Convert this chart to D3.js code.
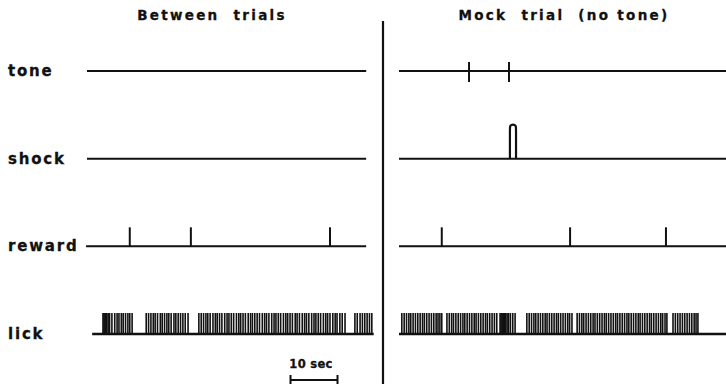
<!DOCTYPE html>
<html>
<head>
<meta charset="utf-8">
<script src="https://cdn.jsdelivr.net/npm/d3@7.9.0/dist/d3.min.js"></script>
<style>
  body { margin: 0; background: #fff; }
  svg text { font-family: 'DejaVu Sans', sans-serif; font-weight: bold; fill: #111; }
</style>
</head>
<body>
<svg width="726" height="384"></svg>
<script>
// rows and panel titles
const rows = ['tone', 'shock', 'reward', 'lick'];
const panelTitles = ['Between  trials', 'Mock  trial  (no tone)'];

// event times in seconds from the start of each panel
const leftTone = [];
const leftShock = [];
const leftReward = [9.1, 22.1, 51.7];
const leftLick = [
  3.4, 3.6, 3.8, 4.0, 4.2, 4.5, 4.8, 5.3, 5.9, 6.4, 6.8, 7.3, 7.7, 8.2, 8.7, 9.1, 9.6,
  12.6, 13.1, 13.6, 14.1, 14.5, 15.0, 15.6, 16.0, 16.5, 17.0, 17.4, 17.9, 18.5, 18.9, 19.4, 19.9, 20.4, 20.9, 21.5,
  23.8, 24.3, 24.8, 25.3, 25.7, 26.2, 26.8, 27.3, 27.7, 28.2, 28.7, 29.3, 29.8, 30.2, 30.7, 31.2, 31.8, 32.3,
  32.7, 33.2, 33.7, 34.3, 34.8, 35.2, 35.7, 36.2, 36.7, 37.3, 37.8, 38.2, 38.7, 39.3, 39.8, 40.2, 40.7, 41.2,
  41.8, 42.3, 42.7, 43.2, 43.7, 44.3, 44.7, 45.2, 45.8, 46.3, 46.7, 47.2, 47.8, 48.3, 48.7, 49.2, 49.7, 50.3,
  50.8, 51.2, 51.7, 52.3, 52.8, 53.2, 53.8, 54.3, 54.9,
  57.0, 57.5, 58.1, 58.6, 59.1, 59.6, 60.1, 60.6
];

const rightTone = [14.9, 23.4];
const rightShock = [[23.6, 24.9]];
const rightReward = [9.1, 36.4, 56.8];
const rightLick = [
  0.6, 1.1, 1.6, 2.1, 2.5, 3.0, 3.5, 4.0, 4.5, 5.0, 5.4, 5.9, 6.4, 6.9, 7.4, 7.9, 8.3, 8.7, 9.1,
  10.2, 10.7, 11.2, 11.6, 12.1, 12.6, 13.1, 13.6, 14.0, 14.5, 15.0, 15.5, 16.0, 16.4, 16.9, 17.4, 17.9, 18.4,
  18.8, 19.3, 19.8, 20.3, 20.8, 21.5, 21.7, 21.9, 22.1, 22.3, 22.5, 22.7, 23.0, 23.3, 23.7, 24.2, 24.7,
  27.2, 27.7, 28.2, 28.7, 29.1, 29.6, 30.1, 30.6, 31.1, 31.5, 32.0, 32.5, 33.0, 33.5, 33.9, 34.4, 34.9,
  35.4, 35.9, 36.3, 36.8,
  37.9, 38.4, 38.9, 39.3, 39.8, 40.3, 40.8, 41.3, 41.7, 42.2, 42.7, 43.2, 43.7, 44.1, 44.6, 45.1, 45.6,
  46.1, 46.5, 47.0, 47.5, 48.0, 48.5, 48.9, 49.4, 49.9, 50.4, 50.9, 51.3, 51.8, 52.3, 52.8, 53.3, 53.7,
  54.2, 54.7, 55.2, 55.7, 56.1, 56.6, 57.0,
  58.3, 58.8, 59.3, 59.8, 60.3, 60.8, 61.3, 61.8, 62.3, 62.8, 63.2, 63.6
];

// trace extents [start, end] in seconds, per row
const leftExtent = { tone: [0, 59.4], shock: [0, 59.4], reward: [-0.2, 59.4], lick: [1.1, 61.0] };
const rightExtent = { tone: [0, 70], shock: [0, 70], reward: [0, 70], lick: [0, 70] };

const scaleBarSec = 10;

const svg = d3.select('svg');
const ink = '#111';

const y = d3.scalePoint().domain(rows).range([71, 334]);
const xLeft = d3.scaleLinear().domain([0, 60]).range([87, 369]);
const xRight = d3.scaleLinear().domain([0, 60]).range([399, 681]);

// row labels
rows.forEach((r) => {
  svg.append('text')
    .attr('x', 8)
    .attr('y', y(r) + 5)
    .attr('font-size', 15)
    .attr('letter-spacing', 1.8)
    .attr('stroke', ink).attr('stroke-width', 0.3)
    .text(r);
});

// panel titles
[[212, panelTitles[0]], [564, panelTitles[1]]].forEach(([cx, label]) => {
  svg.append('text')
    .attr('x', cx).attr('y', 20)
    .attr('text-anchor', 'middle')
    .attr('font-size', 13.5)
    .attr('letter-spacing', 2.3)
    .attr('stroke', ink).attr('stroke-width', 0.3)
    .style('white-space', 'pre')
    .text(label);
});

// divider
svg.append('line')
  .attr('x1', 383).attr('x2', 383)
  .attr('y1', 21).attr('y2', 384)
  .attr('stroke', ink).attr('stroke-width', 2.2);

function drawPanel(x, extent, tone, shock, reward, lick) {
  let g = svg.append('g');

  // baselines
  rows.forEach((r) => {
    g.append('line')
      .attr('x1', x(extent[r][0])).attr('x2', x(extent[r][1]))
      .attr('y1', y(r)).attr('y2', y(r))
      .attr('stroke', ink).attr('stroke-width', r === 'lick' ? 2.4 : 2);
  });

  // tone marks cross the line
  tone.forEach((t) => {
    g.append('line')
      .attr('x1', x(t)).attr('x2', x(t))
      .attr('y1', y('tone') - 9).attr('y2', y('tone') + 11)
      .attr('stroke', ink).attr('stroke-width', 2);
  });

  // shock pulses
  let pulse = d3.line().curve(d3.curveBasis);
  shock.forEach(([on, off]) => {
    let base = y('shock');
    let top = base - 34;
    g.append('path')
      .attr('d', pulse([[x(on), base], [x(on), base], [x(on), top + 3], [x(on), top], [x(off), top], [x(off), top + 3], [x(off), base], [x(off), base]]))
      .attr('fill', 'none')
      .attr('stroke', ink).attr('stroke-width', 2.2)
      .attr('stroke-linejoin', 'round');
  });

  // reward marks
  reward.forEach((t) => {
    g.append('line')
      .attr('x1', x(t)).attr('x2', x(t))
      .attr('y1', y('reward')).attr('y2', y('reward') - 19)
      .attr('stroke', ink).attr('stroke-width', 2);
  });

  // licks
  lick.forEach((t) => {
    g.append('line')
      .attr('x1', x(t)).attr('x2', x(t))
      .attr('y1', y('lick')).attr('y2', y('lick') - 21)
      .attr('stroke', ink).attr('stroke-width', 1.6);
  });
}

drawPanel(xLeft, leftExtent, leftTone, leftShock, leftReward, leftLick);
drawPanel(xRight, rightExtent, rightTone, rightShock, rightReward, rightLick);

// 10 sec scale bar
let sbStart = 43.3;
let sbY = 380;
svg.append('text')
  .attr('x', (xLeft(sbStart) + xLeft(sbStart + scaleBarSec)) / 2 - 3)
  .attr('y', 368)
  .attr('text-anchor', 'middle')
  .attr('font-size', 11.5)
  .attr('letter-spacing', 0.3)
  .attr('stroke', ink).attr('stroke-width', 0.3)
  .text(`${scaleBarSec} sec`);

svg.append('line')
  .attr('x1', xLeft(sbStart)).attr('x2', xLeft(sbStart + scaleBarSec))
  .attr('y1', sbY).attr('y2', sbY)
  .attr('stroke', ink).attr('stroke-width', 2);

[sbStart, sbStart + scaleBarSec].forEach((t) => {
  svg.append('line')
    .attr('x1', xLeft(t)).attr('x2', xLeft(t))
    .attr('y1', sbY - 5).attr('y2', sbY + 5)
    .attr('stroke', ink).attr('stroke-width', 2);
});
</script>
</body>
</html>
